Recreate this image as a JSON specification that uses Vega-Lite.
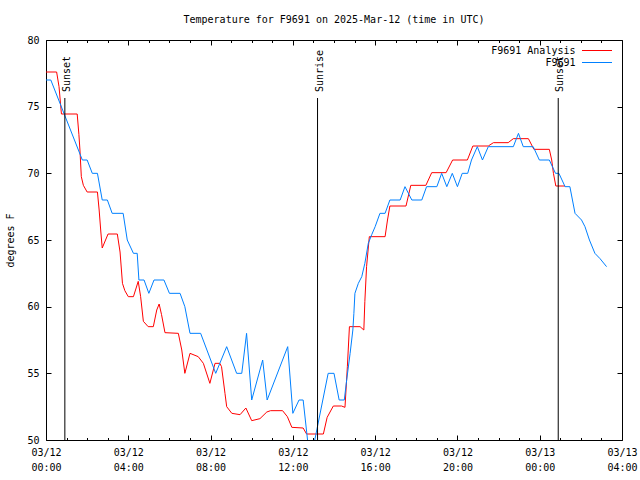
{
  "$schema": "https://vega.github.io/schema/vega-lite/v6.json",
  "autosize": {"type": "none"},
  "padding": {"left": 46, "top": 40, "right": 18, "bottom": 40},
  "width": 576,
  "height": 400,
  "background": "white",
  "title": {"text": "Temperature for F9691 on 2025-Mar-12 (time in UTC)", "fontSize": 10, "fontWeight": "normal", "anchor": "middle", "baseline": "alphabetic", "offset": 2, "color": "black"},
  "config": {
    "font": "DejaVu Sans Mono",
    "view": {"stroke": "black", "strokeWidth": 1},
    "axis": {"grid": false, "domain": false, "tickColor": "black", "labelColor": "black", "labelFontSize": 10, "titleFontSize": 10, "titleFontWeight": "normal", "titleColor": "black", "labelFlush": false, "labelOverlap": false, "labelBound": false}
  },
  "datasets": {
    "obs": [
      {"t": "2025-03-12T00:00Z", "v": 77.6, "s": "F9691 Analysis"},
      {"t": "2025-03-12T00:31Z", "v": 77.6, "s": "F9691 Analysis"},
      {"t": "2025-03-12T00:38Z", "v": 76.5, "s": "F9691 Analysis"},
      {"t": "2025-03-12T00:45Z", "v": 74.45, "s": "F9691 Analysis"},
      {"t": "2025-03-12T01:31Z", "v": 74.45, "s": "F9691 Analysis"},
      {"t": "2025-03-12T01:36Z", "v": 72.9, "s": "F9691 Analysis"},
      {"t": "2025-03-12T01:39Z", "v": 71.75, "s": "F9691 Analysis"},
      {"t": "2025-03-12T01:43Z", "v": 69.75, "s": "F9691 Analysis"},
      {"t": "2025-03-12T01:49Z", "v": 69.1, "s": "F9691 Analysis"},
      {"t": "2025-03-12T02:00Z", "v": 68.6, "s": "F9691 Analysis"},
      {"t": "2025-03-12T02:30Z", "v": 68.6, "s": "F9691 Analysis"},
      {"t": "2025-03-12T02:35Z", "v": 67.25, "s": "F9691 Analysis"},
      {"t": "2025-03-12T02:40Z", "v": 65.6, "s": "F9691 Analysis"},
      {"t": "2025-03-12T02:44Z", "v": 64.4, "s": "F9691 Analysis"},
      {"t": "2025-03-12T03:01Z", "v": 65.45, "s": "F9691 Analysis"},
      {"t": "2025-03-12T03:28Z", "v": 65.45, "s": "F9691 Analysis"},
      {"t": "2025-03-12T03:36Z", "v": 64.1, "s": "F9691 Analysis"},
      {"t": "2025-03-12T03:43Z", "v": 61.75, "s": "F9691 Analysis"},
      {"t": "2025-03-12T03:50Z", "v": 61.2, "s": "F9691 Analysis"},
      {"t": "2025-03-12T04:00Z", "v": 60.75, "s": "F9691 Analysis"},
      {"t": "2025-03-12T04:15Z", "v": 60.75, "s": "F9691 Analysis"},
      {"t": "2025-03-12T04:29Z", "v": 61.9, "s": "F9691 Analysis"},
      {"t": "2025-03-12T04:36Z", "v": 60.75, "s": "F9691 Analysis"},
      {"t": "2025-03-12T04:44Z", "v": 58.9, "s": "F9691 Analysis"},
      {"t": "2025-03-12T04:58Z", "v": 58.5, "s": "F9691 Analysis"},
      {"t": "2025-03-12T05:13Z", "v": 58.5, "s": "F9691 Analysis"},
      {"t": "2025-03-12T05:23Z", "v": 59.75, "s": "F9691 Analysis"},
      {"t": "2025-03-12T05:30Z", "v": 60.2, "s": "F9691 Analysis"},
      {"t": "2025-03-12T05:37Z", "v": 59.4, "s": "F9691 Analysis"},
      {"t": "2025-03-12T05:47Z", "v": 58.05, "s": "F9691 Analysis"},
      {"t": "2025-03-12T06:26Z", "v": 58.0, "s": "F9691 Analysis"},
      {"t": "2025-03-12T06:36Z", "v": 56.75, "s": "F9691 Analysis"},
      {"t": "2025-03-12T06:45Z", "v": 55.0, "s": "F9691 Analysis"},
      {"t": "2025-03-12T07:00Z", "v": 56.5, "s": "F9691 Analysis"},
      {"t": "2025-03-12T07:24Z", "v": 56.25, "s": "F9691 Analysis"},
      {"t": "2025-03-12T07:39Z", "v": 55.75, "s": "F9691 Analysis"},
      {"t": "2025-03-12T07:58Z", "v": 54.25, "s": "F9691 Analysis"},
      {"t": "2025-03-12T08:13Z", "v": 55.75, "s": "F9691 Analysis"},
      {"t": "2025-03-12T08:27Z", "v": 55.75, "s": "F9691 Analysis"},
      {"t": "2025-03-12T08:32Z", "v": 55.5, "s": "F9691 Analysis"},
      {"t": "2025-03-12T08:42Z", "v": 53.5, "s": "F9691 Analysis"},
      {"t": "2025-03-12T08:47Z", "v": 52.5, "s": "F9691 Analysis"},
      {"t": "2025-03-12T09:02Z", "v": 52.0, "s": "F9691 Analysis"},
      {"t": "2025-03-12T09:26Z", "v": 51.9, "s": "F9691 Analysis"},
      {"t": "2025-03-12T09:43Z", "v": 52.4, "s": "F9691 Analysis"},
      {"t": "2025-03-12T10:00Z", "v": 51.45, "s": "F9691 Analysis"},
      {"t": "2025-03-12T10:24Z", "v": 51.6, "s": "F9691 Analysis"},
      {"t": "2025-03-12T10:44Z", "v": 52.1, "s": "F9691 Analysis"},
      {"t": "2025-03-12T10:55Z", "v": 52.2, "s": "F9691 Analysis"},
      {"t": "2025-03-12T11:30Z", "v": 52.2, "s": "F9691 Analysis"},
      {"t": "2025-03-12T11:44Z", "v": 51.75, "s": "F9691 Analysis"},
      {"t": "2025-03-12T11:57Z", "v": 50.95, "s": "F9691 Analysis"},
      {"t": "2025-03-12T12:30Z", "v": 50.9, "s": "F9691 Analysis"},
      {"t": "2025-03-12T12:40Z", "v": 50.45, "s": "F9691 Analysis"},
      {"t": "2025-03-12T13:29Z", "v": 50.45, "s": "F9691 Analysis"},
      {"t": "2025-03-12T13:40Z", "v": 51.7, "s": "F9691 Analysis"},
      {"t": "2025-03-12T13:58Z", "v": 52.55, "s": "F9691 Analysis"},
      {"t": "2025-03-12T14:22Z", "v": 52.55, "s": "F9691 Analysis"},
      {"t": "2025-03-12T14:32Z", "v": 52.45, "s": "F9691 Analysis"},
      {"t": "2025-03-12T14:35Z", "v": 53.75, "s": "F9691 Analysis"},
      {"t": "2025-03-12T14:39Z", "v": 55.5, "s": "F9691 Analysis"},
      {"t": "2025-03-12T14:45Z", "v": 58.5, "s": "F9691 Analysis"},
      {"t": "2025-03-12T15:16Z", "v": 58.5, "s": "F9691 Analysis"},
      {"t": "2025-03-12T15:27Z", "v": 58.25, "s": "F9691 Analysis"},
      {"t": "2025-03-12T15:30Z", "v": 60.4, "s": "F9691 Analysis"},
      {"t": "2025-03-12T15:35Z", "v": 63.0, "s": "F9691 Analysis"},
      {"t": "2025-03-12T15:43Z", "v": 65.25, "s": "F9691 Analysis"},
      {"t": "2025-03-12T16:29Z", "v": 65.25, "s": "F9691 Analysis"},
      {"t": "2025-03-12T16:36Z", "v": 66.5, "s": "F9691 Analysis"},
      {"t": "2025-03-12T16:43Z", "v": 67.55, "s": "F9691 Analysis"},
      {"t": "2025-03-12T17:30Z", "v": 67.55, "s": "F9691 Analysis"},
      {"t": "2025-03-12T17:44Z", "v": 69.1, "s": "F9691 Analysis"},
      {"t": "2025-03-12T18:28Z", "v": 69.1, "s": "F9691 Analysis"},
      {"t": "2025-03-12T18:45Z", "v": 70.05, "s": "F9691 Analysis"},
      {"t": "2025-03-12T19:27Z", "v": 70.05, "s": "F9691 Analysis"},
      {"t": "2025-03-12T19:46Z", "v": 71.0, "s": "F9691 Analysis"},
      {"t": "2025-03-12T20:29Z", "v": 71.0, "s": "F9691 Analysis"},
      {"t": "2025-03-12T20:45Z", "v": 72.05, "s": "F9691 Analysis"},
      {"t": "2025-03-12T21:30Z", "v": 72.05, "s": "F9691 Analysis"},
      {"t": "2025-03-12T21:45Z", "v": 72.3, "s": "F9691 Analysis"},
      {"t": "2025-03-12T22:28Z", "v": 72.3, "s": "F9691 Analysis"},
      {"t": "2025-03-12T22:43Z", "v": 72.6, "s": "F9691 Analysis"},
      {"t": "2025-03-12T23:27Z", "v": 72.6, "s": "F9691 Analysis"},
      {"t": "2025-03-12T23:43Z", "v": 71.8, "s": "F9691 Analysis"},
      {"t": "2025-03-13T00:28Z", "v": 71.8, "s": "F9691 Analysis"},
      {"t": "2025-03-13T00:35Z", "v": 71.0, "s": "F9691 Analysis"},
      {"t": "2025-03-13T00:40Z", "v": 70.0, "s": "F9691 Analysis"},
      {"t": "2025-03-13T00:47Z", "v": 69.05, "s": "F9691 Analysis"},
      {"t": "2025-03-13T01:14Z", "v": 69.05, "s": "F9691 Analysis"},
      {"t": "2025-03-12T00:00Z", "v": 77, "s": "F9691"},
      {"t": "2025-03-12T00:14Z", "v": 77, "s": "F9691"},
      {"t": "2025-03-12T01:46Z", "v": 71, "s": "F9691"},
      {"t": "2025-03-12T02:00Z", "v": 71, "s": "F9691"},
      {"t": "2025-03-12T02:15Z", "v": 70, "s": "F9691"},
      {"t": "2025-03-12T02:30Z", "v": 70, "s": "F9691"},
      {"t": "2025-03-12T02:44Z", "v": 68, "s": "F9691"},
      {"t": "2025-03-12T02:59Z", "v": 68, "s": "F9691"},
      {"t": "2025-03-12T03:13Z", "v": 67, "s": "F9691"},
      {"t": "2025-03-12T03:45Z", "v": 67, "s": "F9691"},
      {"t": "2025-03-12T03:57Z", "v": 65, "s": "F9691"},
      {"t": "2025-03-12T04:15Z", "v": 64, "s": "F9691"},
      {"t": "2025-03-12T04:26Z", "v": 64, "s": "F9691"},
      {"t": "2025-03-12T04:31Z", "v": 62, "s": "F9691"},
      {"t": "2025-03-12T04:46Z", "v": 62, "s": "F9691"},
      {"t": "2025-03-12T05:00Z", "v": 61, "s": "F9691"},
      {"t": "2025-03-12T05:15Z", "v": 62, "s": "F9691"},
      {"t": "2025-03-12T05:44Z", "v": 62, "s": "F9691"},
      {"t": "2025-03-12T06:00Z", "v": 61, "s": "F9691"},
      {"t": "2025-03-12T06:31Z", "v": 61, "s": "F9691"},
      {"t": "2025-03-12T06:45Z", "v": 60, "s": "F9691"},
      {"t": "2025-03-12T07:00Z", "v": 58, "s": "F9691"},
      {"t": "2025-03-12T07:31Z", "v": 58, "s": "F9691"},
      {"t": "2025-03-12T08:15Z", "v": 55, "s": "F9691"},
      {"t": "2025-03-12T08:47Z", "v": 57, "s": "F9691"},
      {"t": "2025-03-12T09:16Z", "v": 55, "s": "F9691"},
      {"t": "2025-03-12T09:31Z", "v": 55, "s": "F9691"},
      {"t": "2025-03-12T09:45Z", "v": 58, "s": "F9691"},
      {"t": "2025-03-12T10:00Z", "v": 53, "s": "F9691"},
      {"t": "2025-03-12T10:32Z", "v": 56, "s": "F9691"},
      {"t": "2025-03-12T10:45Z", "v": 53, "s": "F9691"},
      {"t": "2025-03-12T11:45Z", "v": 57, "s": "F9691"},
      {"t": "2025-03-12T12:00Z", "v": 52, "s": "F9691"},
      {"t": "2025-03-12T12:18Z", "v": 53, "s": "F9691"},
      {"t": "2025-03-12T12:30Z", "v": 53, "s": "F9691"},
      {"t": "2025-03-12T12:45Z", "v": 49.5, "s": "F9691"},
      {"t": "2025-03-12T13:00Z", "v": 49.5, "s": "F9691"},
      {"t": "2025-03-12T13:43Z", "v": 55, "s": "F9691"},
      {"t": "2025-03-12T14:00Z", "v": 55, "s": "F9691"},
      {"t": "2025-03-12T14:15Z", "v": 53, "s": "F9691"},
      {"t": "2025-03-12T14:30Z", "v": 53, "s": "F9691"},
      {"t": "2025-03-12T14:37Z", "v": 54.5, "s": "F9691"},
      {"t": "2025-03-12T14:47Z", "v": 56.5, "s": "F9691"},
      {"t": "2025-03-12T14:55Z", "v": 58.25, "s": "F9691"},
      {"t": "2025-03-12T14:58Z", "v": 59.5, "s": "F9691"},
      {"t": "2025-03-12T15:01Z", "v": 61, "s": "F9691"},
      {"t": "2025-03-12T15:11Z", "v": 61.75, "s": "F9691"},
      {"t": "2025-03-12T15:21Z", "v": 62.25, "s": "F9691"},
      {"t": "2025-03-12T15:30Z", "v": 63.25, "s": "F9691"},
      {"t": "2025-03-12T15:40Z", "v": 64.75, "s": "F9691"},
      {"t": "2025-03-12T15:50Z", "v": 65.4, "s": "F9691"},
      {"t": "2025-03-12T16:00Z", "v": 66, "s": "F9691"},
      {"t": "2025-03-12T16:14Z", "v": 67, "s": "F9691"},
      {"t": "2025-03-12T16:29Z", "v": 67, "s": "F9691"},
      {"t": "2025-03-12T16:43Z", "v": 68, "s": "F9691"},
      {"t": "2025-03-12T17:13Z", "v": 68, "s": "F9691"},
      {"t": "2025-03-12T17:27Z", "v": 69, "s": "F9691"},
      {"t": "2025-03-12T17:47Z", "v": 68, "s": "F9691"},
      {"t": "2025-03-12T18:16Z", "v": 68, "s": "F9691"},
      {"t": "2025-03-12T18:30Z", "v": 69, "s": "F9691"},
      {"t": "2025-03-12T19:00Z", "v": 69, "s": "F9691"},
      {"t": "2025-03-12T19:14Z", "v": 70, "s": "F9691"},
      {"t": "2025-03-12T19:29Z", "v": 69, "s": "F9691"},
      {"t": "2025-03-12T19:45Z", "v": 70, "s": "F9691"},
      {"t": "2025-03-12T20:00Z", "v": 69, "s": "F9691"},
      {"t": "2025-03-12T20:14Z", "v": 70, "s": "F9691"},
      {"t": "2025-03-12T20:30Z", "v": 70, "s": "F9691"},
      {"t": "2025-03-12T20:41Z", "v": 71, "s": "F9691"},
      {"t": "2025-03-12T20:58Z", "v": 72, "s": "F9691"},
      {"t": "2025-03-12T21:13Z", "v": 71, "s": "F9691"},
      {"t": "2025-03-12T21:30Z", "v": 72, "s": "F9691"},
      {"t": "2025-03-12T22:43Z", "v": 72, "s": "F9691"},
      {"t": "2025-03-12T22:58Z", "v": 73, "s": "F9691"},
      {"t": "2025-03-12T23:12Z", "v": 72, "s": "F9691"},
      {"t": "2025-03-12T23:41Z", "v": 72, "s": "F9691"},
      {"t": "2025-03-12T23:59Z", "v": 71, "s": "F9691"},
      {"t": "2025-03-13T00:28Z", "v": 71, "s": "F9691"},
      {"t": "2025-03-13T00:46Z", "v": 70, "s": "F9691"},
      {"t": "2025-03-13T00:56Z", "v": 70, "s": "F9691"},
      {"t": "2025-03-13T01:14Z", "v": 69, "s": "F9691"},
      {"t": "2025-03-13T01:28Z", "v": 69, "s": "F9691"},
      {"t": "2025-03-13T01:43Z", "v": 67, "s": "F9691"},
      {"t": "2025-03-13T02:02Z", "v": 66.5, "s": "F9691"},
      {"t": "2025-03-13T02:12Z", "v": 66, "s": "F9691"},
      {"t": "2025-03-13T02:25Z", "v": 65, "s": "F9691"},
      {"t": "2025-03-13T02:41Z", "v": 64, "s": "F9691"},
      {"t": "2025-03-13T02:56Z", "v": 63.6, "s": "F9691"},
      {"t": "2025-03-13T03:15Z", "v": 63, "s": "F9691"}
    ],
    "sun": [
      {"t": "2025-03-12T00:55Z", "label": "Sunset"},
      {"t": "2025-03-12T13:12Z", "label": "Sunrise"},
      {"t": "2025-03-13T00:54Z", "label": "Sunset"}
    ]
  },
  "resolve": {"axis": {"x": "independent", "y": "independent"}},
  "layer": [
    {
      "data": {"name": "obs"},
      "transform": [{"filter": "datum.s == 'F9691 Analysis'"}],
      "mark": {"type": "line", "strokeWidth": 1, "clip": true, "interpolate": "linear"},
      "encoding": {
        "x": {"field": "t", "type": "temporal",
          "scale": {"type": "utc", "domain": [1741737600000, 1741838400000], "nice": false},
          "axis": {"orient": "bottom", "title": null, "tickCount": 28,
            "tickSize": {"condition": {"test": "utchours(datum.value) % 4 == 0", "value": -5}, "value": -2.5},
            "labelPadding": {"condition": {"test": "utchours(datum.value) % 4 == 0", "value": 12}, "value": 9.5},
            "labelBaseline": "top", "labelAlign": "center", "labelLineHeight": 15,
            "labelExpr": "utchours(datum.value) % 4 == 0 ? [utcFormat(datum.value, '%m/%d'), utcFormat(datum.value, '%H:%M')] : ''"}},
        "y": {"field": "v", "type": "quantitative",
          "scale": {"domain": [50, 80], "nice": false, "zero": false},
          "axis": {"orient": "left", "title": "degrees F", "values": [50, 55, 60, 65, 70, 75, 80], "tickSize": -5, "labelPadding": 12, "titleX": -36, "titleY": 200, "titleAngle": 270, "titleBaseline": "middle", "titleAlign": "center"}},
        "color": {"field": "s", "type": "nominal",
          "scale": {"domain": ["F9691 Analysis", "F9691"], "range": ["#ff0000", "#0080ff"]},
          "legend": {"orient": "none", "legendX": 528, "legendY": 5, "title": null, "symbolType": "M-3,0H3", "symbolSize": 100, "symbolStrokeWidth": 1, "labelAlign": "right", "labelOffset": -27, "symbolOffset": 17.5, "padding": 0, "rowPadding": 1, "labelFontSize": 10, "labelColor": "black", "labelFont": "DejaVu Sans Mono"}}
      }
    },
    {
      "data": {"name": "obs"},
      "transform": [{"filter": "datum.s == 'F9691'"}],
      "mark": {"type": "line", "strokeWidth": 1, "clip": true, "interpolate": "linear"},
      "encoding": {
        "x": {"field": "t", "type": "temporal",
          "axis": {"orient": "top", "title": null, "tickCount": 28,
            "tickSize": {"condition": {"test": "utchours(datum.value) % 4 == 0", "value": -5}, "value": -2.5},
            "labels": false}},
        "y": {"field": "v", "type": "quantitative",
          "axis": {"orient": "right", "title": null, "values": [50, 55, 60, 65, 70, 75, 80], "tickSize": -5, "labels": false}},
        "color": {"field": "s", "type": "nominal"}
      }
    },
    {
      "data": {"name": "sun"},
      "mark": {"type": "rule", "color": "black", "strokeWidth": 1},
      "encoding": {
        "x": {"field": "t", "type": "temporal", "axis": null},
        "y": {"datum": 50, "type": "quantitative", "axis": null},
        "y2": {"datum": 75.65}
      }
    },
    {
      "data": {"name": "sun"},
      "mark": {"type": "text", "angle": 270, "align": "left", "baseline": "alphabetic", "dx": 6, "dy": 5, "fontSize": 10, "font": "DejaVu Sans Mono", "color": "black"},
      "encoding": {
        "x": {"field": "t", "type": "temporal", "axis": null},
        "y": {"datum": 75.65, "type": "quantitative", "axis": null},
        "text": {"field": "label"}
      }
    }
  ]
}
